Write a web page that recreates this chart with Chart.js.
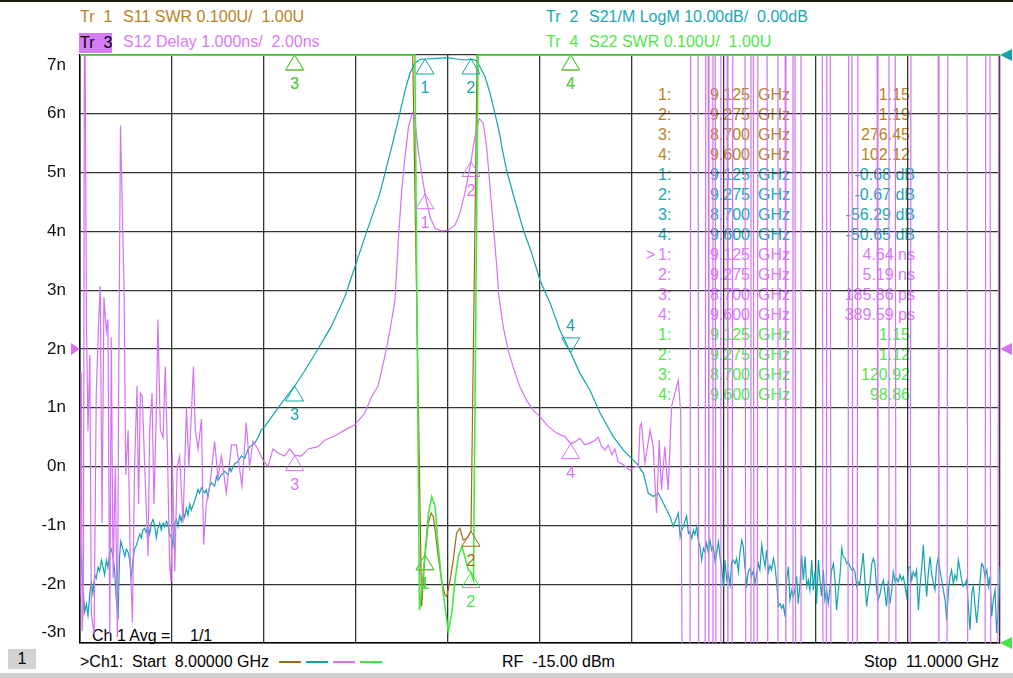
<!DOCTYPE html>
<html>
<head>
<meta charset="utf-8">
<script src="https://cdn.jsdelivr.net/npm/chart.js@4.4.1/dist/chart.umd.min.js"></script>
<style>
  html, body { margin: 0; padding: 0; background: #fff; }
  #page { position: relative; width: 1013px; height: 678px; overflow: hidden; background: #fff;
          font-family: "Liberation Sans", Arial, sans-serif; font-size: 16px; }
  #page .t { position: absolute; white-space: pre; line-height: 20px; height: 20px; z-index: 1; }
  #plot { position: absolute; left: 0; top: 0; z-index: 2; }
  #topline { position: absolute; left: 0; top: 0; width: 1013px; height: 2px; background: #1a1a10; }
  #bottombar { position: absolute; left: 0; top: 673px; width: 1013px; height: 5px; background: #d0d0d0; }
  #chbox { position: absolute; left: 8px; top: 649px; width: 28px; height: 20px; background: #d3d3d3;
           text-align: center; line-height: 20px; z-index: 1; }
  .dash { position: absolute; top: 661px; height: 2px; width: 22px; z-index: 1; }
</style>
</head>
<body>
<div id="page">
  <div id="topline"></div>
  <div class="t" style="left:80px; top:7px; color:#b8821e">Tr  1</div>
  <div class="t" style="left:123px; top:7px; color:#b8821e">S11 SWR 0.100U/  1.00U</div>
  <div class="t" style="left:546px; top:7px; color:#17a9b3">Tr  2</div>
  <div class="t" style="left:589px; top:7px; color:#17a9b3">S21/M LogM 10.00dB/  0.00dB</div>
  <div class="t" style="left:79px; top:33px; width:33px; background:#d77af5; color:#000; text-indent:1px">Tr  3</div>
  <div class="t" style="left:123px; top:32px; color:#d77af5">S12 Delay 1.000ns/  2.00ns</div>
  <div class="t" style="left:546px; top:32px; color:#4fe84f">Tr  4</div>
  <div class="t" style="left:589px; top:32px; color:#4fe84f">S22 SWR 0.100U/  1.00U</div>

  <div class="t" style="left:92px; top:626px; color:#000">Ch 1 Avg =</div>
  <div class="t" style="left:190px; top:626px; color:#000">1/1</div>

  <div id="chbox">1</div>
  <div class="t" style="left:80px; top:652px; color:#000">&gt;Ch1:  Start  8.00000 GHz</div>
  <div class="dash" style="left:279px; background:#a36a12"></div>
  <div class="dash" style="left:306px; background:#12a4ac"></div>
  <div class="dash" style="left:333px; background:#d472f2"></div>
  <div class="dash" style="left:360px; background:#44e644"></div>
  <div class="t" style="left:502px; top:652px; color:#000">RF  -15.00 dBm</div>
  <div class="t" style="right:14px; top:652px; color:#000">Stop  11.0000 GHz</div>
  <div id="bottombar"></div>

  <canvas id="plot" width="1013" height="678"></canvas>
</div>

<script>
// S21 LogM (dB)
var s21Freq = [8.000, 8.004, 8.010, 8.015, 8.021, 8.026, 8.032, 8.037, 8.042, 8.048, 8.053, 8.059, 8.064, 8.070,
  8.075, 8.080, 8.086, 8.091, 8.097, 8.102, 8.108, 8.113, 8.118, 8.124, 8.129, 8.133, 8.140, 8.146, 8.151,
  8.157, 8.162, 8.167, 8.173, 8.178, 8.184, 8.189, 8.195, 8.200, 8.205, 8.211, 8.216, 8.222, 8.227, 8.233,
  8.238, 8.243, 8.249, 8.254, 8.260, 8.265, 8.271, 8.276, 8.282, 8.287, 8.292, 8.298, 8.303, 8.309, 8.314,
  8.320, 8.325, 8.330, 8.336, 8.341, 8.347, 8.352, 8.358, 8.363, 8.374, 8.385, 8.390, 8.396, 8.407, 8.412,
  8.417, 8.423, 8.428, 8.439, 8.445, 8.450, 8.461, 8.472, 8.483, 8.488, 8.493, 8.504, 8.515, 8.526, 8.537,
  8.548, 8.559, 8.570, 8.580, 8.591, 8.602, 8.646, 8.700, 8.733, 8.776, 8.819, 8.863, 8.896, 8.928, 8.978,
  9.000, 9.022, 9.043, 9.060, 9.076, 9.092, 9.109, 9.125, 9.163, 9.196, 9.228, 9.261, 9.275, 9.294, 9.304,
  9.321, 9.337, 9.353, 9.370, 9.375, 9.391, 9.418, 9.446, 9.473, 9.500, 9.533, 9.565, 9.600, 9.630, 9.663,
  9.696, 9.739, 9.772, 9.804, 9.815, 9.837, 9.853, 9.869, 9.886, 9.902, 9.924, 9.935, 9.951,
  9.957, 9.962, 9.967, 9.973, 9.978, 9.984, 9.989, 9.995, 10.000, 10.005, 10.011, 10.016, 10.022, 10.027,
  10.033, 10.038, 10.043, 10.049, 10.054, 10.060, 10.065, 10.071, 10.076, 10.082, 10.087, 10.092, 10.098,
  10.103, 10.109, 10.114, 10.120, 10.125, 10.130, 10.136, 10.141, 10.147, 10.152, 10.158, 10.163, 10.168,
  10.174, 10.179, 10.185, 10.190, 10.196, 10.201, 10.206, 10.212, 10.217, 10.223, 10.228, 10.234, 10.239,
  10.245, 10.250, 10.255, 10.261, 10.266, 10.272, 10.277, 10.283, 10.288, 10.293, 10.299, 10.304, 10.310,
  10.315, 10.321, 10.326, 10.331, 10.337, 10.342, 10.348, 10.353, 10.359, 10.364, 10.370, 10.375, 10.380,
  10.386, 10.391, 10.397, 10.402, 10.408, 10.413, 10.418, 10.424, 10.429, 10.435, 10.440, 10.446, 10.451,
  10.457, 10.462, 10.467, 10.473, 10.478, 10.484, 10.489, 10.495, 10.500, 10.505, 10.511, 10.516, 10.522,
  10.527, 10.533, 10.538, 10.543, 10.549, 10.554, 10.560, 10.565, 10.571, 10.576, 10.582, 10.587, 10.592,
  10.598, 10.603, 10.609, 10.614, 10.620, 10.625, 10.630, 10.636, 10.641, 10.647, 10.652, 10.658, 10.663,
  10.668, 10.674, 10.679, 10.685, 10.690, 10.696, 10.701, 10.707, 10.712, 10.717, 10.723, 10.728, 10.734,
  10.739, 10.745, 10.750, 10.755, 10.761, 10.766, 10.772, 10.777, 10.783, 10.788, 10.793, 10.799, 10.804,
  10.810, 10.815, 10.821, 10.826, 10.832, 10.837, 10.842, 10.848, 10.853, 10.859, 10.864, 10.870, 10.875,
  10.880, 10.886, 10.891, 10.897, 10.902, 10.908, 10.913, 10.918, 10.924, 10.929, 10.935, 10.940, 10.946,
  10.951, 10.957, 10.962, 10.967, 10.973, 10.978, 10.984, 10.989, 10.995, 11.000];
var s21Db = [-82.1, -85.3, -90.3, -94.7, -93.4, -95.3, -91.6, -89.7, -91.6, -88.4, -89.0, -87.1, -87.8, -85.9,
  -87.1, -88.4, -85.9, -87.1, -84.6, -84.0, -85.3, -87.8, -92.2, -96.0, -85.3, -82.7, -84.0, -85.3, -84.0,
  -84.6, -85.9, -88.7, -85.9, -84.0, -83.4, -82.4, -81.5, -82.1, -80.8, -80.5, -81.2, -80.2, -81.5, -79.6,
  -79.0, -79.9, -82.1, -80.5, -79.6, -80.8, -79.6, -80.2, -79.3, -79.9, -81.5, -82.1, -83.4, -79.6, -79.0,
  -80.2, -78.3, -79.3, -77.7, -78.6, -77.1, -78.3, -76.4, -77.4, -75.8, -73.9, -74.5, -73.6, -74.5, -73.9,
  -75.2, -73.3, -72.7, -73.3, -71.7, -72.3, -71.4, -70.8, -71.4, -70.1, -70.8, -69.5, -69.2, -68.2, -68.6,
  -67.0, -66.4, -66.0, -65.1, -63.8, -63.2, -60.0, -56.29, -53.7, -50.0, -46.2, -41.2, -36.1, -31.1, -23.5,
  -19.0, -14.5, -9.9, -6.0, -3.1, -1.4, -0.73, -0.68, -0.56, -0.45, -0.68, -0.85, -0.67, -0.97, -2.0,
  -3.7, -6.5, -9.9, -13.9, -15.5, -19.6, -24.7, -29.8, -33.7, -38.3, -42.2, -46.8, -50.65, -54.1, -57.0,
  -60.9, -64.9, -67.2, -68.9, -69.4, -71.1, -74.5, -75.1, -74.5, -76.2, -78.5, -80.2, -77.9,
  -81.9, -80.8, -80.3, -79.2, -78.4, -81.4, -81.1, -82.2, -80.8, -81.6, -80.2, -82.5, -83.6, -85.9,
  -83.9, -84.5, -83.0, -84.7, -82.5, -84.2, -83.6, -86.2, -84.7, -82.8, -85.3, -87.0, -90.4,
  -85.9, -89.3, -88.2, -90.1, -86.2, -85.9, -86.5, -85.6, -87.9, -84.7, -82.5, -83.6, -87.0,
  -90.1, -87.9, -87.3, -88.7, -87.6, -89.9, -88.4, -86.5, -87.6, -83.3, -85.3, -87.0, -84.2,
  -87.9, -86.8, -87.6, -85.6, -86.8, -89.9, -93.8, -93.3, -94.1, -93.5, -95.5, -89.3, -87.0,
  -92.7, -91.0, -92.1, -91.0, -88.7, -93.3, -89.9, -85.0, -89.3, -85.3, -90.4, -89.3, -91.0,
  -85.9, -91.0, -87.6, -93.3, -85.9, -89.3, -92.1, -87.6, -92.7, -91.0, -93.3, -90.4, -87.6,
  -86.5, -89.3, -94.4, -91.0, -88.7, -83.9, -85.3, -85.6, -86.5, -86.2, -87.0, -87.6, -87.3,
  -87.9, -90.4, -89.6, -89.9, -87.0, -84.7, -89.9, -93.8, -91.0, -89.9, -86.5, -85.6, -86.5,
  -91.3, -92.7, -91.6, -90.1, -89.3, -91.6, -93.8, -89.3, -93.3, -91.0, -87.9, -89.6, -89.0,
  -89.6, -88.4, -89.3, -88.7, -90.4, -92.1, -87.3, -87.0, -89.3, -87.9, -88.7, -87.6, -94.4,
  -90.4, -87.0, -83.3, -87.9, -92.1, -88.2, -85.3, -88.2, -89.9, -91.0, -87.0, -85.3, -87.6,
  -89.3, -91.0, -92.7, -96.1, -91.0, -88.7, -87.6, -89.9, -88.4, -89.3, -85.9, -87.6, -89.3,
  -90.4, -89.9, -89.3, -93.8, -97.8, -91.6, -90.4, -93.3, -96.6, -93.8, -89.3, -86.5, -87.0,
  -88.7, -87.6, -90.4, -88.7, -95.5, -92.7, -91.0, -98.3, -93.8, -87.0];

// S12 group delay (ns); +9 / -5 are off-screen excursions
var delayFreq = [8.000, 8.004, 8.007, 8.011, 8.015, 8.021, 8.026, 8.032, 8.037, 8.046, 8.053, 8.061, 8.066,
  8.072, 8.078, 8.086, 8.091, 8.097, 8.102, 8.108, 8.115, 8.122, 8.126, 8.132, 8.137, 8.144, 8.149, 8.157,
  8.164, 8.171, 8.178, 8.186, 8.191, 8.197, 8.203, 8.211, 8.222, 8.227, 8.235, 8.241, 8.249, 8.254, 8.262,
  8.271, 8.278, 8.285, 8.292, 8.297, 8.301, 8.309, 8.317, 8.325, 8.336, 8.347, 8.355, 8.363, 8.370, 8.376,
  8.385, 8.396, 8.403, 8.412, 8.423, 8.439, 8.450, 8.461, 8.477, 8.494, 8.510, 8.528, 8.542, 8.553, 8.564,
  8.580, 8.597, 8.613, 8.629, 8.646, 8.667, 8.684, 8.700, 8.722, 8.744, 8.776, 8.798, 8.830, 8.863, 8.896,
  8.928, 8.950, 8.972, 8.995, 9.011, 9.027, 9.038, 9.049, 9.060, 9.071, 9.084, 9.092, 9.103, 9.114, 9.125,
  9.141, 9.158, 9.179, 9.201, 9.223, 9.239, 9.255, 9.275, 9.288, 9.302, 9.315, 9.326, 9.337, 9.348, 9.359,
  9.366, 9.380, 9.396, 9.412, 9.434, 9.456, 9.477, 9.500, 9.527, 9.554, 9.581, 9.600, 9.614, 9.630, 9.646,
  9.663, 9.679, 9.690, 9.701, 9.712, 9.723, 9.734, 9.744, 9.755, 9.772, 9.793, 9.810, 9.821, 9.826, 9.831,
  9.842, 9.859, 9.869, 9.880, 9.889, 9.896, 9.907, 9.918, 9.929, 9.940, 9.951, 9.959, 9.965,
  9.989, 9.992, 10.015, 10.018, 10.038, 10.041, 10.048, 10.051, 10.061, 10.064, 10.071, 10.074,
  10.087, 10.090, 10.110, 10.113, 10.126, 10.129, 10.168, 10.171, 10.185, 10.188, 10.195, 10.198,
  10.208, 10.211, 10.240, 10.243, 10.273, 10.276, 10.299, 10.302, 10.322, 10.325, 10.331, 10.334,
  10.348, 10.351, 10.420, 10.423, 10.433, 10.436, 10.446, 10.449, 10.504, 10.507, 10.517, 10.520,
  10.534, 10.537, 10.599, 10.602, 10.635, 10.638, 10.658, 10.661, 10.707, 10.710, 10.798, 10.801,
  10.827, 10.830, 10.892, 10.895, 10.951, 10.954, 10.967, 10.970, 10.993, 10.996, 11.000];
var delayNs = [-2.2, 1.6, -2.8, -2.4, 9, 2.5, 0.6, 1.9, -2.5, -2.85, 1.25, 2.5, 3.07,
  -0.96, 2.88, 2.3, 2.5, -2.85, 2.2, -1.9, 0.0, -2.9, 1.25, 5.8, 4.6, 2.95, -0.14, 0.62,
  -1.6, -2.65, 0.0, 1.37, -0.64, 1.25, 1.19, 0.0, -1.52, 0.62, 1.25, -0.64, 0.93, 2.5, 0.62,
  0.5, 1.7, 0.3, -1.66, -1.96, 0.23, -1.78, 0.0, 0.18, -0.96, 1.0, 0.0, 0.88, 1.7, 0.62,
  0.3, 0.81, -1.33, -0.64, -0.33, 0.43, -0.2, 0.18, -0.45, 0.37, 0.37, -0.33, 0.75, 0.0, 0.43,
  0.3, 0.11, 0.0, 0.3, 0.23, 0.18, 0.3, 0.19, 0.18, 0.3, 0.34, 0.45, 0.52, 0.62, 0.71,
  0.9, 1.18, 1.37, 1.9, 2.32, 2.83, 3.85, 4.7, 5.27, 5.78, 6.02, 5.9, 5.38, 4.99, 4.64,
  4.25, 4.05, 4.01, 4.02, 4.11, 4.31, 4.65, 5.19, 5.61, 5.92, 5.84, 5.44, 4.75, 4.08, 3.4,
  2.9, 2.38, 1.98, 1.7, 1.36, 1.13, 0.96, 0.85, 0.68, 0.57, 0.51, 0.39, 0.42, 0.48, 0.37,
  0.4, 0.45, 0.5, 0.34, 0.28, 0.37, 0.2, 0.3, 0.08, 0.03, -0.06, 0.0, 0.0, 0.68, 0.74,
  0.06, 0.62, 0.34, -0.79, 0.45, -0.4, 0.34, -0.4, 1.02, 1.25, 1.47, 0.9, -5,
  -5, 9, 9, -5, -5, 9, 9, -5, -5, 9, 9, -5,
  -5, 9, 9, -5, -5, 9, 9, -5, -5, 9, 9, -5,
  -5, 9, 9, -5, -5, 9, 9, -5, -5, 9, 9, -5,
  -5, 9, 9, -5, -5, 9, 9, -5, -5, 9, 9, -5,
  -5, 9, 9, -5, -5, 9, 9, -5, -5, 9, 9, -5,
  -5, 9, 9, -5, -5, 9, 9, -5, -5, 9, 9];

// S11 SWR
var s11Freq = [8.000, 8.700, 9.000, 9.085, 9.114, 9.125, 9.136, 9.145, 9.152, 9.158, 9.168, 9.179, 9.190,
  9.196, 9.207, 9.217, 9.228, 9.239, 9.250, 9.262, 9.275, 9.295, 9.400, 9.600, 11.000];
var s11Swr = [300, 276.45, 40, 3.0, 1.062, 1.15, 1.204, 1.221, 1.215, 1.192, 1.147, 1.107, 1.082,
  1.079, 1.107, 1.141, 1.187, 1.195, 1.175, 1.178, 1.19, 3.0, 40, 102.12, 300];

// S22 SWR
var s22Freq = [8.000, 8.700, 9.000, 9.092, 9.107, 9.114, 9.125, 9.136, 9.147, 9.158, 9.168, 9.179, 9.190,
  9.201, 9.212, 9.223, 9.234, 9.245, 9.255, 9.266, 9.275, 9.283, 9.298, 9.400, 9.600, 11.000];
var s22Swr = [150, 120.92, 30, 3.0, 1.056, 1.09, 1.15, 1.22, 1.249, 1.232, 1.164, 1.107, 1.062,
  1.019, 1.05, 1.107, 1.147, 1.164, 1.147, 1.125, 1.12, 1.107, 3.0, 30, 98.86, 150];

// markers
var markerFreq = [9.125, 9.275, 8.700, 9.600];
var s11Marker = [1.15, 1.19, 276.45, 102.12];
var s21Marker = [-0.68, -0.67, -56.29, -50.65];
var delayMarker = [4.64, 5.19, 0.18586, 0.38959];
var s22Marker = [1.15, 1.12, 120.92, 98.86];
var s21MarkerDown = [false, false, false, true];

var yTickValues = [7, 6, 5, 4, 3, 2, 1, 0, -1, -2, -3];
var yTickLabels = ["7n", "6n", "5n", "4n", "3n", "2n", "1n", "0n", "-1n", "-2n", "-3n"];

var tr1Color = "#a36a12", tr2Color = "#12a4ac", tr3Color = "#d472f2", tr4Color = "#44e644";
var tr1Text = "#b8821e", tr2Text = "#17a9b3", tr3Text = "#d77af5", tr4Text = "#4fe84f";
var swrTop = 2.0;

function pts(xs, ys, clampMax) {
  return xs.map(function (f, i) {
    var v = ys[i];
    if (clampMax !== undefined) v = Math.min(v, clampMax);
    return { x: f, y: v };
  });
}

// marker readout table (behind the traces, like on the instrument)
function fmtSwr(v) { return v.toFixed(2); }
function fmtDb(v) { return v.toFixed(2) + " dB"; }
function fmtDelay(v) { return v >= 1 ? v.toFixed(2) + " ns" : (v * 1000).toFixed(2) + " ps"; }
var tableGroups = [
  { vals: s11Marker, fmt: fmtSwr, color: tr1Text },
  { vals: s21Marker, fmt: fmtDb, color: tr2Text },
  { vals: delayMarker, fmt: fmtDelay, color: tr3Text, active: true },
  { vals: s22Marker, fmt: fmtSwr, color: tr4Text }
];
var page = document.getElementById("page");
function addText(txt, css, color) {
  var d = document.createElement("div");
  d.className = "t";
  d.textContent = txt;
  d.style.cssText += css;
  d.style.color = color;
  page.insertBefore(d, document.getElementById("plot"));
}
var row = 0;
tableGroups.forEach(function (g) {
  g.vals.forEach(function (v, i) {
    var top = 84.5 + row * 20;
    var s = g.fmt(v);
    if (g.active && i == 0) addText(">", "left:646px; top:" + top + "px;", g.color);
    addText((i + 1) + ":", "left:658px; top:" + top + "px;", g.color);
    addText(markerFreq[i].toFixed(3), "right:" + (1013 - 750) + "px; top:" + top + "px;", g.color);
    addText("GHz", "left:758px; top:" + top + "px;", g.color);
    var rightEdge = (s.indexOf(" ") > 0) ? 915 : 910;
    addText(s, "right:" + (1013 - rightEdge) + "px; top:" + top + "px;", g.color);
    row++;
  });
});

function drawMarker(ctx, x, y, color, label, down) {
  ctx.save();
  ctx.strokeStyle = color;
  ctx.fillStyle = color;
  ctx.lineWidth = 1;
  ctx.beginPath();
  if (down) {
    ctx.moveTo(x, y); ctx.lineTo(x - 9, y - 15); ctx.lineTo(x + 9, y - 15);
  } else {
    ctx.moveTo(x, y); ctx.lineTo(x - 9, y + 15); ctx.lineTo(x + 9, y + 15);
  }
  ctx.closePath();
  ctx.stroke();
  ctx.font = '16px "Liberation Sans", Arial, sans-serif';
  ctx.textAlign = "center";
  ctx.textBaseline = "middle";
  ctx.fillText(label, x, down ? y - 26 : y + 30);
  ctx.restore();
}

var vnaOverlay = {
  id: "vnaOverlay",
  afterDatasetsDraw: function (chart) {
    var ctx = chart.ctx, area = chart.chartArea, sc = chart.scales;
    // y tick labels (top and bottom ones pulled inside the grid)
    ctx.save();
    ctx.fillStyle = "#111";
    ctx.font = '17px "Liberation Sans", Arial, sans-serif';
    ctx.textAlign = "right";
    ctx.textBaseline = "middle";
    yTickValues.forEach(function (v, i) {
      var y = sc.y.getPixelForValue(v);
      y = Math.max(area.top + 10, Math.min(area.bottom - 11, y));
      ctx.fillText(yTickLabels[i], 66, y);
    });
    ctx.restore();

    // markers, drawn in trace order
    markerFreq.forEach(function (f, i) {
      var x = sc.x.getPixelForValue(f);
      drawMarker(ctx, x, sc.ySwr.getPixelForValue(Math.min(s11Marker[i], swrTop)), tr1Color, String(i + 1), false);
    });
    markerFreq.forEach(function (f, i) {
      var x = sc.x.getPixelForValue(f);
      drawMarker(ctx, x, sc.yDb.getPixelForValue(s21Marker[i]), tr2Color, String(i + 1), s21MarkerDown[i]);
    });
    markerFreq.forEach(function (f, i) {
      var x = sc.x.getPixelForValue(f);
      drawMarker(ctx, x, sc.y.getPixelForValue(delayMarker[i]), tr3Color, String(i + 1), false);
    });
    markerFreq.forEach(function (f, i) {
      var x = sc.x.getPixelForValue(f);
      drawMarker(ctx, x, sc.ySwr.getPixelForValue(Math.min(s22Marker[i], swrTop)), tr4Color, String(i + 1), false);
    });

    // reference position arrows
    function refArrow(y, color, left) {
      ctx.save();
      ctx.fillStyle = color;
      ctx.beginPath();
      if (left) {
        ctx.moveTo(area.left, y); ctx.lineTo(area.left - 9, y - 6); ctx.lineTo(area.left - 9, y + 6);
      } else {
        ctx.moveTo(area.right, y); ctx.lineTo(area.right + 12, y - 6); ctx.lineTo(area.right + 12, y + 6);
      }
      ctx.closePath();
      ctx.fill();
      ctx.restore();
    }
    refArrow(sc.yDb.getPixelForValue(0), tr2Color, false);
    refArrow(sc.y.getPixelForValue(2), tr3Color, false);
    refArrow(sc.ySwr.getPixelForValue(1), tr4Color, false);
    refArrow(sc.y.getPixelForValue(2), tr3Color, true);
  }
};

var swrClip = { left: 2, right: 2, top: 3, bottom: 3 };

new Chart(document.getElementById("plot"), {
  type: "line",
  data: {
    datasets: [
      { label: "S11 SWR", data: pts(s11Freq, s11Swr, swrTop), yAxisID: "ySwr", borderColor: tr1Color, order: 4, clip: swrClip },
      { label: "S21 LogM", data: pts(s21Freq, s21Db), yAxisID: "yDb", borderColor: tr2Color, order: 3 },
      { label: "S12 Delay", data: pts(delayFreq, delayNs), yAxisID: "y", borderColor: tr3Color, order: 2 },
      { label: "S22 SWR", data: pts(s22Freq, s22Swr, swrTop), yAxisID: "ySwr", borderColor: tr4Color, order: 1, clip: swrClip, borderWidth: 1.6 }
    ]
  },
  options: {
    responsive: false,
    animation: false,
    devicePixelRatio: 1,
    layout: { padding: { left: 80, top: 55, right: 13, bottom: 35 } },
    elements: {
      line: { borderWidth: 1.2, tension: 0, fill: false },
      point: { radius: 0, hoverRadius: 0 }
    },
    plugins: { legend: { display: false }, tooltip: { enabled: false } },
    events: [],
    scales: {
      x: {
        type: "linear", min: 8, max: 11,
        ticks: { display: false, stepSize: 0.3 },
        grid: { color: "#333", lineWidth: 1.3, drawTicks: false },
        border: { display: true, color: "#000", width: 1.5 }
      },
      y: {
        type: "linear", position: "left", min: -3, max: 7,
        ticks: { display: false, stepSize: 1 },
        grid: { color: "#333", lineWidth: 1.3, drawTicks: false },
        border: { display: true, color: "#000", width: 1.5 }
      },
      yDb: { type: "linear", display: false, min: -100, max: 0 },
      ySwr: { type: "linear", display: false, min: 1, max: 2 }
    }
  },
  plugins: [vnaOverlay]
});
</script>
</body>
</html>
